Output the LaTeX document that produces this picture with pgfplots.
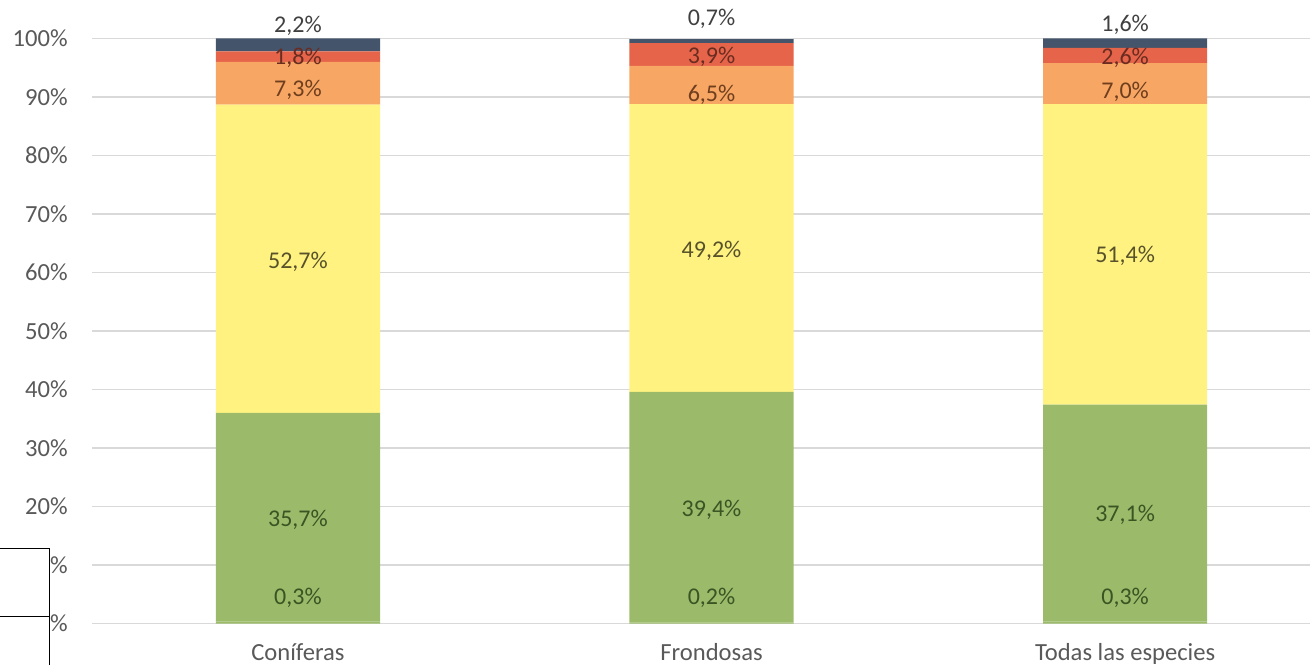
\documentclass[border=0pt]{standalone}
\usepackage{fontspec}
\setmainfont{Carlito}
\usepackage{pgfplots}
\pgfplotsset{compat=1.18}

% segment colours
\definecolor{cNavy}{HTML}{44546A}
\definecolor{cRed}{HTML}{E5644A}
\definecolor{cOrange}{HTML}{F8A663}
\definecolor{cYellow}{HTML}{FFF281}
\definecolor{cGreen}{HTML}{9BBB6A}
% label colours
\definecolor{tGreen}{HTML}{3B5424}
\definecolor{tYellow}{HTML}{57522A}
\definecolor{tOrange}{HTML}{6E3E1E}
\definecolor{tRed}{HTML}{6A2C20}
\definecolor{tTop}{HTML}{404040}
\definecolor{cTick}{HTML}{595959}
\definecolor{cGrid}{HTML}{D9D9D9}

\pgfplotsset{
  frame/.style={
    at={(46bp,20.75bp)}, anchor=south west,
    scale only axis,
    width=609bp, height=292.5bp,
    xmin=-0.498, xmax=2.447,
    ymin=0, ymax=100,
    clip=false,
  },
}

\begin{document}
\begin{tikzpicture}[lab/.style={font=\fontsize{12bp}{14bp}\selectfont, inner sep=0pt}]
\useasboundingbox (0bp,0bp) rectangle (655bp,332.5bp);
\clip (0bp,0bp) rectangle (655bp,332.5bp);
\begin{axis}[
    frame,
    ybar stacked,
    bar width=0.397,
    axis line style={draw=none},
    major tick style={draw=none},
    ymajorgrids,
    major grid style={cGrid, line width=0.75bp},
    ytick={0,10,...,100},
    yticklabels={0\%,10\%,20\%,30\%,40\%,50\%,60\%,70\%,80\%,90\%,100\%},
    xtick={0,1,2},
    xticklabels={Coníferas,Frondosas,Todas las especies},
    /pgf/number format/assume math mode=true,
    ticklabel style={font=\fontsize{12.3bp}{14bp}\selectfont, text=cTick},
    yticklabel style={anchor=east, inner sep=0pt, xshift=-12bp},
    xticklabel style={anchor=base, inner sep=0pt, yshift=-18.25bp},
]
  \addplot+[draw=none, fill=cGreen] coordinates {(0,0.3) (1,0.2) (2,0.3)};
  \addplot+[draw=none, fill=cGreen] coordinates {(0,35.7) (1,39.4) (2,37.1)};
  \addplot+[draw=none, fill=cYellow] coordinates {(0,52.7) (1,49.2) (2,51.4)};
  \addplot+[draw=none, fill=cOrange] coordinates {(0,7.3) (1,6.5) (2,7.0)};
  \addplot+[draw=none, fill=cRed] coordinates {(0,1.8) (1,3.9) (2,2.6)};
  \addplot+[draw=none, fill=cNavy] coordinates {(0,2.2) (1,0.7) (2,1.6)};
\end{axis}

% data labels (placed by hand, as in the source chart), on top of the bars
\begin{axis}[frame, hide axis]
  \node[lab, text=tGreen]  at (axis cs:0,4.3)   {0,3\%};
  \node[lab, text=tGreen]  at (axis cs:0,17.8)  {35,7\%};
  \node[lab, text=tYellow] at (axis cs:0,61.85) {52,7\%};
  \node[lab, text=tOrange] at (axis cs:0,91.2)  {7,3\%};
  \node[lab, text=tRed]    at (axis cs:0,96.7)  {1,8\%};
  \node[lab, text=tTop]    at (axis cs:0,102.2) {2,2\%};

  \node[lab, text=tGreen]  at (axis cs:1,4.3)   {0,2\%};
  \node[lab, text=tGreen]  at (axis cs:1,19.4)  {39,4\%};
  \node[lab, text=tYellow] at (axis cs:1,63.7)  {49,2\%};
  \node[lab, text=tOrange] at (axis cs:1,90.4)  {6,5\%};
  \node[lab, text=tRed]    at (axis cs:1,96.9)  {3,9\%};
  \node[lab, text=tTop]    at (axis cs:1,103.4) {0,7\%};

  \node[lab, text=tGreen]  at (axis cs:2,4.3)   {0,3\%};
  \node[lab, text=tGreen]  at (axis cs:2,18.5)  {37,1\%};
  \node[lab, text=tYellow] at (axis cs:2,62.8)  {51,4\%};
  \node[lab, text=tOrange] at (axis cs:2,90.9)  {7,0\%};
  \node[lab, text=tRed]    at (axis cs:2,96.7)  {2,6\%};
  \node[lab, text=tTop]    at (axis cs:2,102.4) {1,6\%};
\end{axis}

% white boxes over the lower left corner, as in the reference
\draw[black, line width=0.7bp, fill=white] (-1bp,24.15bp) rectangle (24.65bp,58.35bp);
\draw[black, line width=0.7bp, fill=white] (-1bp,-1bp) rectangle (24.65bp,24.15bp);
\end{tikzpicture}
\end{document}
